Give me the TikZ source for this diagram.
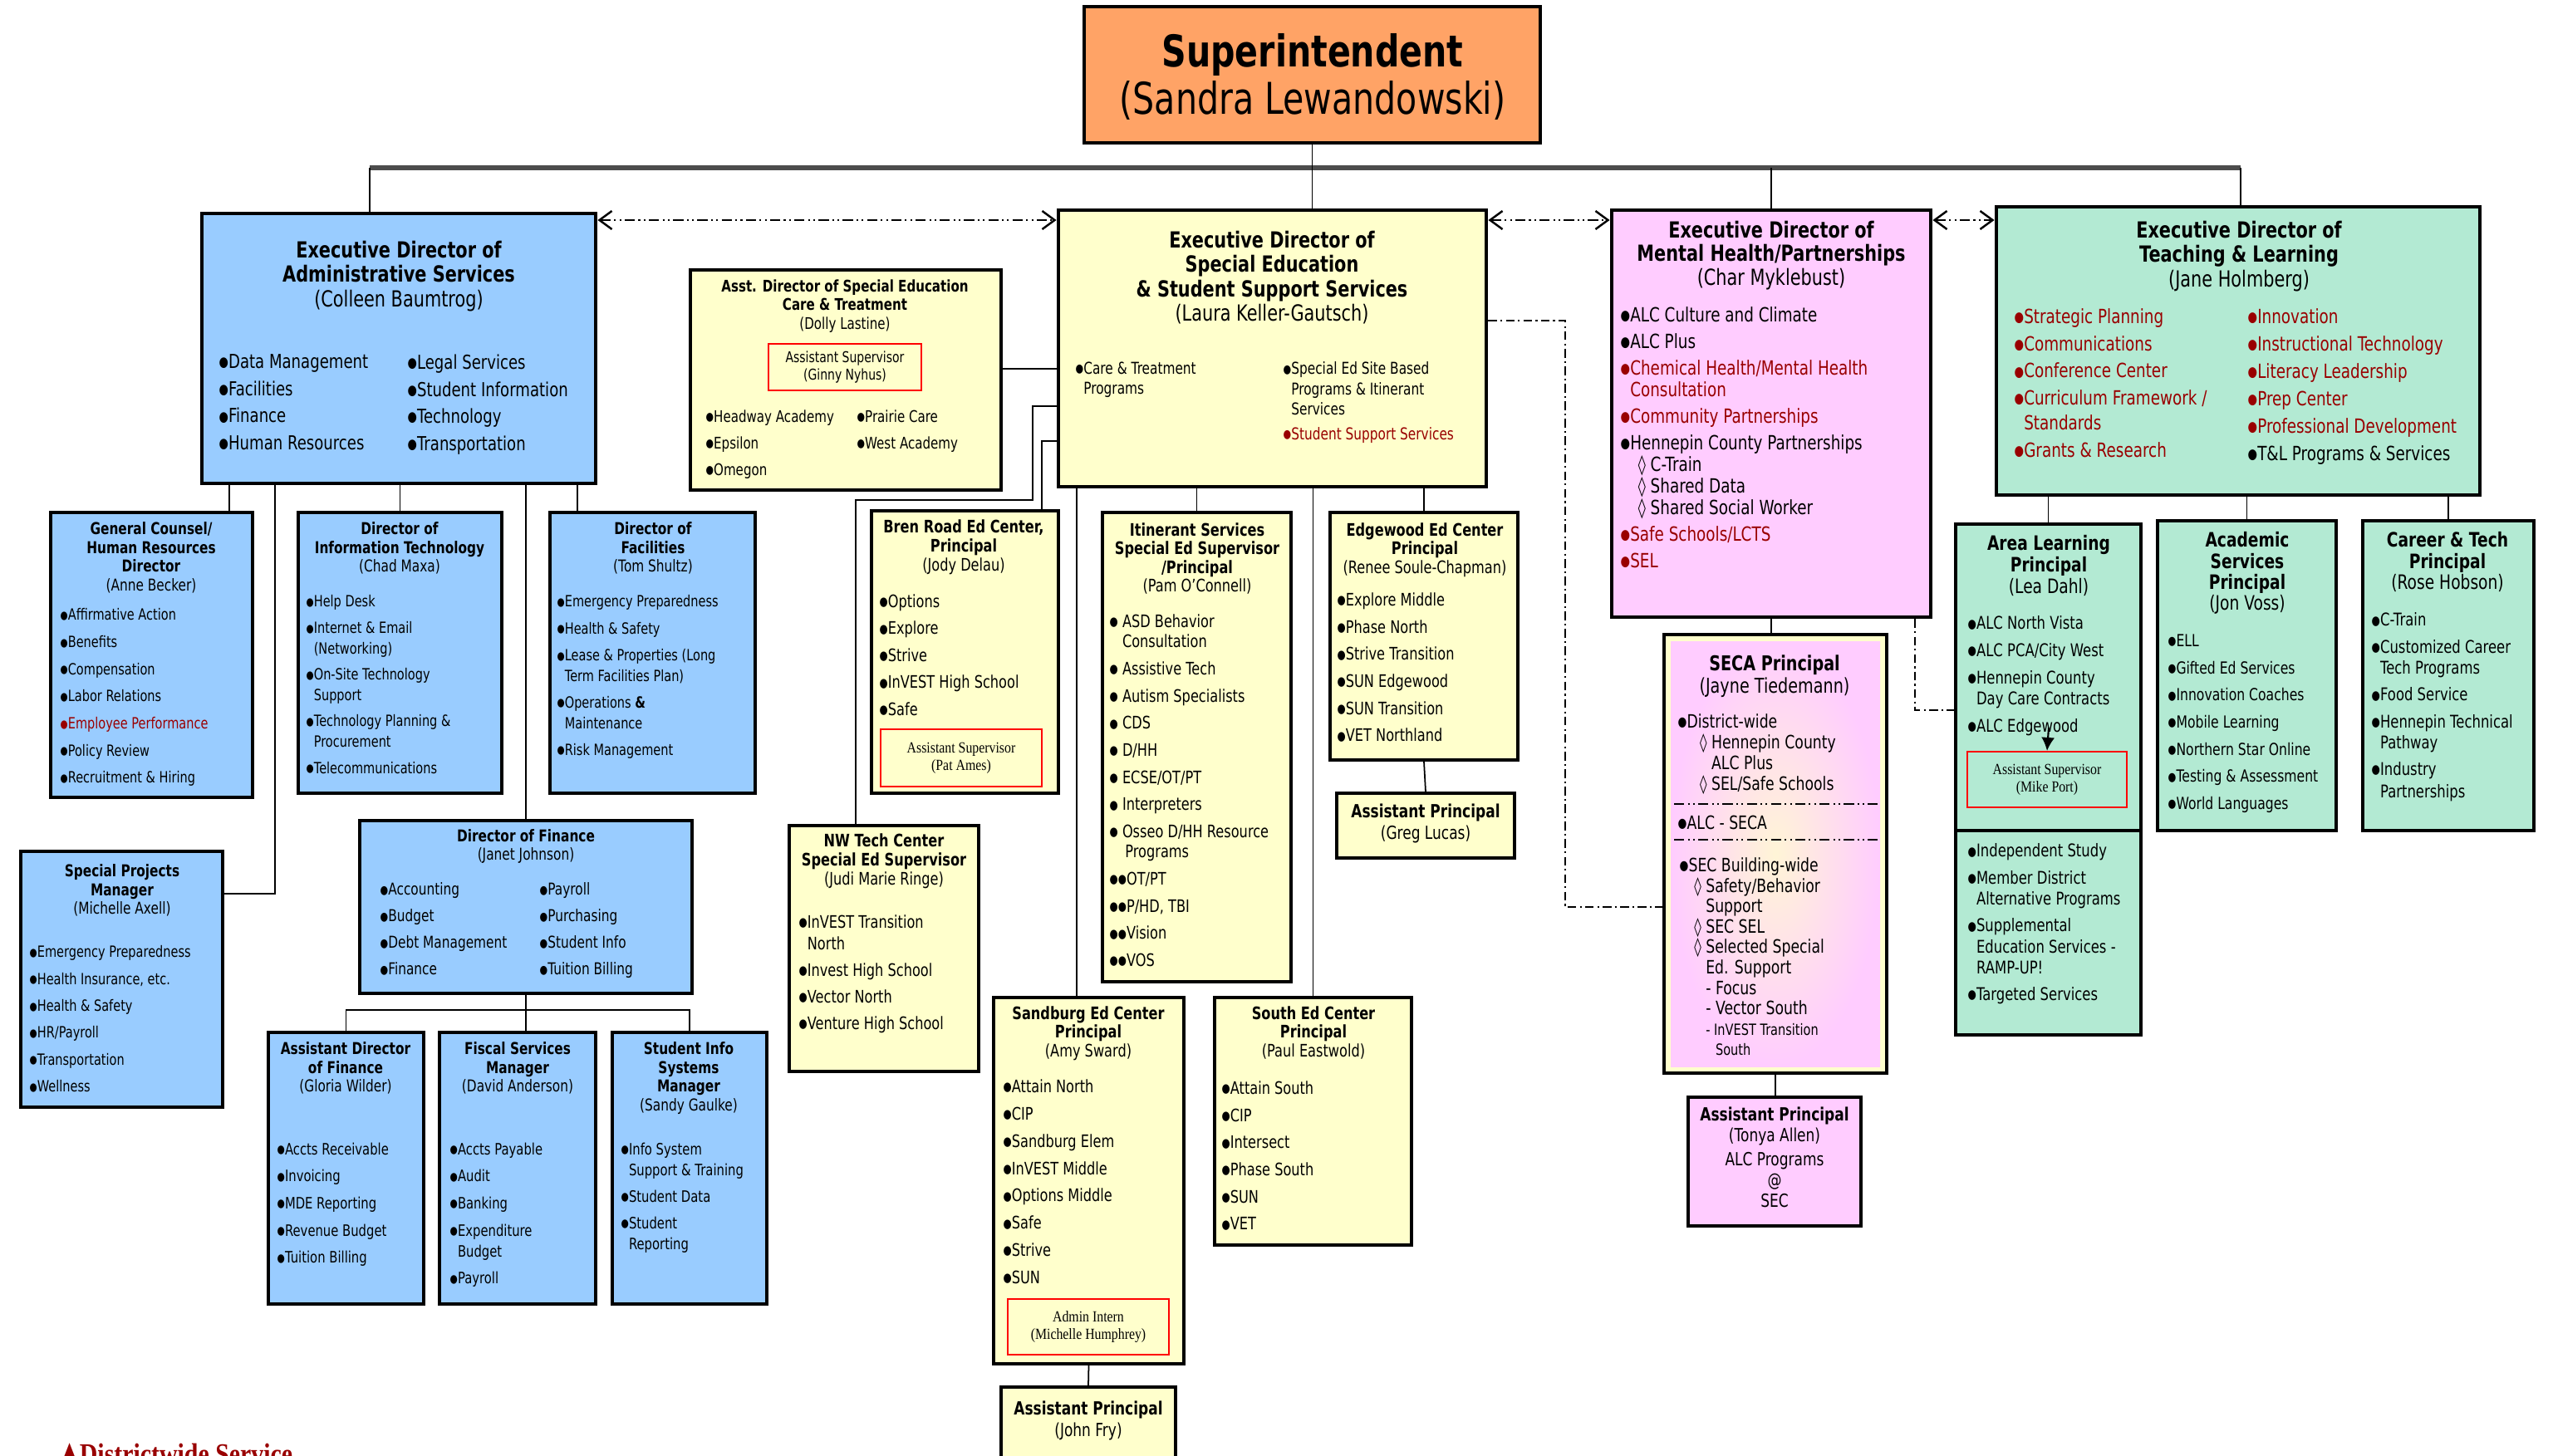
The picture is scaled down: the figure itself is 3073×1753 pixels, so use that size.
\documentclass[tikz,border=0pt]{standalone}
\usepackage{fontspec}
\setmainfont{DejaVu Sans}[FakeStretch=0.78]
\newfontfamily\tnr{Liberation Serif}[FakeStretch=0.85]
\usepackage{tikz}
\usetikzlibrary{positioning,arrows.meta,fit}

\definecolor{supor}{HTML}{FFA366}
\definecolor{admblue}{HTML}{99CCFF}
\definecolor{spyel}{HTML}{FFFFCC}
\definecolor{mhpink}{HTML}{FFCCFF}
\definecolor{tlmint}{HTML}{B3EAD3}
\definecolor{darkred}{HTML}{990000}
\newcommand{\bul}{\raisebox{0.08em}{\scalebox{0.72}{●}}}

\begin{document}
\begin{tikzpicture}[x=0.1mm,y=-0.1mm,
  exec/.style={draw,line width=1.4pt,inner sep=0pt},
  dept/.style={draw,line width=1pt,inner sep=0pt},
  redbox/.style={draw=red,line width=0.6pt,inner sep=0pt},
  ttl/.style 2 args={anchor=north,align=center,inner sep=0pt,font=\fontsize{#1}{#2}\selectfont\bfseries},
  lst/.style 2 args={anchor=north west,align=left,inner sep=0pt,font=\fontsize{#1}{#2}\selectfont},
  note/.style={align=center,inner sep=0pt,font=\tnr\fontsize{5.3}{5.9}\selectfont},
  link/.style={line width=0.5pt},
  dotlink/.style={line width=0.6pt,dash pattern=on 3pt off 1.2pt on 0.6pt off 1.2pt},
  dashdd/.style={line width=0.7pt,dash pattern=on 3.5pt off 1.2pt on 0.6pt off 1.2pt on 0.6pt off 1.2pt},
  dblarr/.style={{Straight Barb[length=1.5mm,width=2.2mm]}-{Straight Barb[length=1.5mm,width=2.2mm]}}]
  \fill[white] (0,0) rectangle (3073,1753);
  \useasboundingbox (0,0) rectangle (3073,1753);

  % superintendent
  \node[exec,fill=supor,fit={(1305,8) (1854,172)}] (sup) {};
  \node[ttl={15}{16.2}] (supt) at (1580,40) {Superintendent\\{\mdseries (Sandra Lewandowski)}};

  % executive directors
  \node[exec,fill=admblue,fit={(243,257) (717,582)}] (adm) {};
  \node[ttl={7.6}{8.4}] (admt) at (480,289) {Executive Director of\\Administrative Services\\{\mdseries (Colleen Baumtrog)}};
  \node[lst={6.6}{9.3}] (adml) at (263,426) {\bul Data Management\\\bul Facilities\\\bul Finance\\\bul Human Resources};
  \node[lst={6.6}{9.3}] (admr) at (490,426) {\bul Legal Services\\\bul Student Information\\\bul Technology\\\bul Transportation};

  \node[exec,fill=spyel,fit={(1274,253) (1789,586)}] (sped) {};
  \node[ttl={7.6}{8.4}] (spedt) at (1531,277) {Executive Director of\\Special Education\\\& Student Support Services\\{\mdseries (Laura Keller-Gautsch)}};
  \node[lst={5.6}{7}] (spedl) at (1294,435) {\bul Care \& Treatment\\\phantom{\bul}Programs};
  \node[lst={5.6}{7}] (spedr) at (1544,435) {\bul Special Ed Site Based\\\phantom{\bul}Programs \& Itinerant\\\phantom{\bul}Services\\[1.3pt]\textcolor{darkred}{\bul Student Support Services}};

  \node[exec,fill=mhpink,fit={(1940,253) (2324,743)}] (mh) {};
  \node[ttl={7.6}{8.2}] (mht) at (2132,265) {Executive Director of\\Mental Health/Partnerships\\{\mdseries (Char Myklebust)}};
  \node[lst={6.7}{9.1}] (mhl) at (1950,369) {\bul ALC Culture and Climate\\\bul ALC Plus\\
    \textcolor{darkred}{\bul Chemical Health/Mental Health}\\[-1.7pt]\textcolor{darkred}{\phantom{\bul}Consultation}\\
    \textcolor{darkred}{\bul Community Partnerships}\\\bul Hennepin County Partnerships\\[-1.7pt]
    \hspace*{6pt}◊ C-Train\\[-1.7pt]\hspace*{6pt}◊ Shared Data\\[-1.7pt]\hspace*{6pt}◊ Shared Social Worker\\
    \textcolor{darkred}{\bul Safe Schools/LCTS}\\\textcolor{darkred}{\bul SEL}};

  \node[exec,fill=tlmint,fit={(2403,249) (2985,596)}] (tl) {};
  \node[ttl={7.6}{8.4}] (tlt) at (2695,265) {Executive Director of\\Teaching \& Learning\\{\mdseries (Jane Holmberg)}};
  \node[lst={6.7}{9.3},text=darkred] (tll) at (2424,371) {\bul Strategic Planning\\\bul Communications\\\bul Conference Center\\
    \bul Curriculum Framework /\\[-0.8pt]\phantom{\bul}Standards\\\bul Grants \& Research};
  \node[lst={6.7}{9.4},text=darkred] (tlr) at (2705,371) {\bul Innovation\\\bul Instructional Technology\\\bul Literacy Leadership\\
    \bul Prep Center\\\bul Professional Development\\\textcolor{black}{\bul T\&L Programs \& Services}};

  % administrative services
  \node[dept,fill=admblue,fit={(61,617) (304,960)}] (gc) {};
  \node[ttl={5.6}{6.4}] (gct) at (182,628) {General Counsel/\\Human Resources\\Director\\{\mdseries (Anne Becker)}};
  \node[lst={5.3}{9.3}] (gcl) at (72,732) {\bul Affirmative Action\\\bul Benefits\\\bul Compensation\\\bul Labor Relations\\
    \textcolor{darkred}{\bul Employee Performance}\\\bul Policy Review\\\bul Recruitment \& Hiring};

  \node[dept,fill=admblue,fit={(359,617) (604,955)}] (it) {};
  \node[ttl={5.6}{6.4}] (itt) at (481,628) {Director of\\Information Technology\\{\mdseries (Chad Maxa)}};
  \node[lst={5.3}{9}] (itl) at (368,716) {\bul Help Desk\\\bul Internet \& Email\\[-2pt]\phantom{\bul}(Networking)\\
    \bul On-Site Technology\\[-2pt]\phantom{\bul}Support\\\bul Technology Planning \&\\[-2pt]\phantom{\bul}Procurement\\\bul Telecommunications};

  \node[dept,fill=admblue,fit={(662,617) (909,955)}] (fac) {};
  \node[ttl={5.6}{6.4}] (fact) at (786,628) {Director of\\Facilities\\{\mdseries (Tom Shultz)}};
  \node[lst={5.3}{9.2}] (facl) at (670,716) {\bul Emergency Preparedness\\\bul Health \& Safety\\
    \bul Lease \& Properties (Long\\[-2.2pt]\phantom{\bul}Term Facilities Plan)\\\bul Operations \textbf{\&}\\[-2.2pt]\phantom{\bul}Maintenance\\\bul Risk Management};

  \node[dept,fill=admblue,fit={(25,1025) (268,1333)}] (spm) {};
  \node[ttl={5.6}{6.4}] (spmt) at (147,1040) {Special Projects\\Manager\\{\mdseries (Michelle Axell)}};
  \node[lst={5.3}{9.2}] (spml) at (35,1138) {\bul Emergency Preparedness\\\bul Health Insurance, etc.\\\bul Health \& Safety\\
    \bul HR/Payroll\\\bul Transportation\\\bul Wellness};

  \node[dept,fill=admblue,fit={(433,988) (833,1196)}] (fin) {};
  \node[ttl={5.6}{6.3}] (fint) at (633,998) {Director of Finance\\{\mdseries (Janet Johnson)}};
  \node[lst={5.6}{9.1}] (finl) at (457,1062) {\bul Accounting\\\bul Budget\\\bul Debt Management\\\bul Finance};
  \node[lst={5.6}{9.1}] (finr) at (649,1062) {\bul Payroll\\\bul Purchasing\\\bul Student Info\\\bul Tuition Billing};

  \node[dept,fill=admblue,fit={(323,1243) (510,1570)}] (adf) {};
  \node[ttl={5.6}{6.4}] (adft) at (416,1254) {Assistant Director\\of Finance\\{\mdseries (Gloria Wilder)}};
  \node[lst={5.4}{9.3}] (adfl) at (333,1375) {\bul Accts Receivable\\\bul Invoicing\\\bul MDE Reporting\\\bul Revenue Budget\\\bul Tuition Billing};

  \node[dept,fill=admblue,fit={(529,1243) (717,1570)}] (fsm) {};
  \node[ttl={5.6}{6.4}] (fsmt) at (623,1254) {Fiscal Services\\Manager\\{\mdseries (David Anderson)}};
  \node[lst={5.4}{9.3}] (fsml) at (541,1375) {\bul Accts Payable\\\bul Audit\\\bul Banking\\\bul Expenditure\\[-2.2pt]\phantom{\bul}Budget\\\bul Payroll};

  \node[dept,fill=admblue,fit={(737,1243) (923,1570)}] (sis) {};
  \node[ttl={5.6}{6.4}] (sist) at (829,1254) {Student Info\\Systems\\Manager\\{\mdseries (Sandy Gaulke)}};
  \node[lst={5.4}{9.1}] (sisl) at (747,1375) {\bul Info System\\[-2pt]\phantom{\bul}Support \& Training\\\bul Student Data\\\bul Student\\[-2pt]\phantom{\bul}Reporting};

  % special education
  \node[dept,fill=spyel,fit={(831,325) (1205,590)}] (acd) {};
  \node[ttl={5.5}{6.4}] (acdt) at (1017,336) {Asst. Director of Special Education\\Care \& Treatment\\{\mdseries (Dolly Lastine)}};
  \node[redbox,fit={(925,414) (1109,470)}] (gny) {};
  \node[align=center,inner sep=0pt,font=\fontsize{5.1}{5.9}\selectfont] (gnyt) at (gny.center) {Assistant Supervisor\\(Ginny Nyhus)};
  \node[lst={5.5}{9.1}] (acdl) at (849,493) {\bul Headway Academy\\\bul Epsilon\\\bul Omegon};
  \node[lst={5.5}{9.1}] (acdr) at (1031,493) {\bul Prairie Care\\\bul West Academy};

  \node[dept,fill=spyel,fit={(1049,615) (1274,955)}] (bren) {};
  \node[ttl={5.9}{6.5}] (brent) at (1160,625) {Bren Road Ed Center,\\Principal\\{\mdseries (Jody Delau)}};
  \node[lst={5.9}{9.25}] (brenl) at (1058,715) {\bul Options\\\bul Explore\\\bul Strive\\\bul InVEST High School\\\bul Safe};
  \node[redbox,fit={(1060,878) (1254,947)}] (pam) {};
  \node[note] (pamt) at (pam.center) {Assistant Supervisor\\(Pat Ames)};

  \node[dept,fill=spyel,fit={(950,994) (1178,1290)}] (nwt) {};
  \node[ttl={5.9}{6.5}] (nwtt) at (1064,1003) {NW Tech Center\\Special Ed Supervisor\\{\mdseries (Judi Marie Ringe)}};
  \node[lst={5.9}{9.1}] (nwtl) at (961,1101) {\bul InVEST Transition\\[-1.8pt]\phantom{\bul}North\\\bul Invest High School\\\bul Vector North\\\bul Venture High School};

  \node[dept,fill=spyel,fit={(1327,617) (1554,1182)}] (itin) {};
  \node[ttl={5.9}{6.4}] (itint) at (1441,629) {Itinerant Services\\Special Ed Supervisor\\/Principal\\{\mdseries (Pam O’Connell)}};
  \node[lst={5.9}{9.3}] (itinl) at (1335,739) {\bul\ ASD Behavior\\[-2.4pt]\phantom{\bul\ }Consultation\\\bul\ Assistive Tech\\
    \bul\ Autism Specialists\\\bul\ CDS\\\bul\ D/HH\\\bul\ ECSE/OT/PT\\\bul\ Interpreters\\
    \bul\ Osseo D/HH Resource\\[-2.4pt]\phantom{\bul\ }\,Programs\\\bul\bul OT/PT\\\bul\bul P/HD, TBI\\\bul\bul Vision\\\bul\bul VOS};

  \node[dept,fill=spyel,fit={(1601,617) (1827,915)}] (edg) {};
  \node[ttl={5.9}{6.4}] (edgt) at (1715,629) {Edgewood Ed Center\\Principal\\{\mdseries (Renee Soule-Chapman)}};
  \node[lst={5.9}{9.3}] (edgl) at (1609,713) {\bul Explore Middle\\\bul Phase North\\\bul Strive Transition\\\bul SUN Edgewood\\\bul SUN Transition\\\bul VET Northland};

  \node[dept,fill=spyel,fit={(1609,955) (1823,1033)}] (ap1) {};
  \node[ttl={6.2}{7.4}] (ap1t) at (1716,967) {Assistant Principal\\{\mdseries (Greg Lucas)}};

  \node[dept,fill=spyel,fit={(1196,1201) (1425,1642)}] (sbg) {};
  \node[ttl={5.9}{6.4}] (sbgt) at (1310,1211) {Sandburg Ed Center\\Principal\\{\mdseries (Amy Sward)}};
  \node[lst={5.9}{9.35}] (sbgl) at (1207,1299) {\bul Attain North\\\bul CIP\\\bul Sandburg Elem\\\bul InVEST Middle\\
    \bul Options Middle\\\bul Safe\\\bul Strive\\\bul SUN};
  \node[redbox,fit={(1213,1564) (1407,1631)}] (mhu) {};
  \node[note] (mhut) at (mhu.center) {Admin Intern\\(Michelle Humphrey)};

  \node[dept,fill=spyel,fit={(1462,1201) (1699,1499)}] (sth) {};
  \node[ttl={5.9}{6.4}] (stht) at (1581,1211) {South Ed Center\\Principal\\{\mdseries (Paul Eastwold)}};
  \node[lst={5.9}{9.3}] (sthl) at (1470,1301) {\bul Attain South\\\bul CIP\\\bul Intersect\\\bul Phase South\\\bul SUN\\\bul VET};

  \node[dept,fill=spyel,fit={(1205,1670) (1415,1800)}] (ap2) {};
  \node[ttl={6.2}{7.4}] (ap2t) at (1310,1686) {Assistant Principal\\{\mdseries (John Fry)}};

  % mental health
  \node[dept,fill=spyel,fit={(2003,764) (2271,1292)}] (seca) {};
  \shade[inner color=spyel!80!mhpink,outer color=mhpink] (2011,772) rectangle (2263,1284);
  \node[ttl={7}{7.7}] (secat) at (2136,788) {SECA Principal\\{\mdseries (Jayne Tiedemann)}};
  \node[lst={6.3}{7.1}] (secal) at (2019,859) {\bul District-wide\\\hspace*{7.5pt}◊ Hennepin County\\
    \hspace*{7.5pt}\phantom{◊ }ALC Plus\\\hspace*{7.5pt}◊ SEL/Safe Schools};
  \draw[dashdd] (2015,968) -- (2260,968);
  \node[lst={6.3}{7.1}] (secam) at (2019,981) {\bul ALC - SECA};
  \draw[dashdd] (2015,1011) -- (2260,1011);
  \node[lst={6.3}{7}] (secab) at (2021,1032) {\bul SEC Building-wide\\\hspace*{5pt}◊ Safety/Behavior\\
    \hspace*{5pt}\phantom{◊ }Support\\\hspace*{5pt}◊ SEC SEL\\\hspace*{5pt}◊ Selected Special\\
    \hspace*{5pt}\phantom{◊ }Ed. Support\\\hspace*{5pt}\phantom{◊ }- Focus\\\hspace*{5pt}\phantom{◊ }- Vector South\\
    \hspace*{5pt}\phantom{◊ }{\fontsize{5.3}{7}\selectfont - InVEST Transition}\\
    \hspace*{5pt}\phantom{◊ - }{\fontsize{5.3}{7}\selectfont South}};

  \node[dept,fill=mhpink,fit={(2032,1321) (2240,1476)}] (ap3) {};
  \node[ttl={6.2}{7.1}] (ap3t) at (2136,1332) {Assistant Principal\\{\mdseries (Tonya Allen)}\\[1.2pt]
    {\mdseries ALC Programs}\\{\mdseries @}\\{\mdseries SEC}};

  % teaching and learning
  \node[dept,fill=tlmint,fit={(2354,631) (2577,1246)}] (alp) {};
  \node[ttl={6.8}{7.3}] (alpt) at (2466,644) {Area Learning\\Principal\\{\mdseries (Lea Dahl)}};
  \node[lst={6}{9.3}] (alpl) at (2368,741) {\bul ALC North Vista\\\bul ALC PCA/City West\\
    \bul Hennepin County\\[-2pt]\phantom{\bul}Day Care Contracts\\\bul ALC Edgewood};
  \node[redbox,fit={(2368,905) (2560,972)}] (mpt) {};
  \node[note] (mptt) at (mpt.center) {Assistant Supervisor\\(Mike Port)};
  \coordinate (mparr) at (2466,876);
  \draw[line width=0.6pt,-{Latex[length=1.6mm,width=1.6mm]}] (mparr) -- (mpt.north);
  \draw[line width=1pt] (alp.west |- 0,1000) -- (alp.east |- 0,1000);
  \node[lst={6}{9.2}] (alpb) at (2368,1015) {\bul Independent Study\\\bul Member District\\[-2pt]\phantom{\bul}Alternative Programs\\
    \bul Supplemental\\[-2pt]\phantom{\bul}Education Services -\\[-2pt]\phantom{\bul}RAMP-UP!\\\bul Targeted Services};

  \node[dept,fill=tlmint,fit={(2597,627) (2812,1000)}] (asp) {};
  \node[ttl={6.8}{7.2}] (aspt) at (2705,640) {Academic\\Services\\Principal\\{\mdseries (Jon Voss)}};
  \node[lst={5.7}{9.3}] (aspl) at (2609,763) {\bul ELL\\\bul Gifted Ed Services\\\bul Innovation Coaches\\\bul Mobile Learning\\
    \bul Northern Star Online\\\bul Testing \& Assessment\\\bul World Languages};

  \node[dept,fill=tlmint,fit={(2844,627) (3050,1000)}] (ctp) {};
  \node[ttl={6.8}{7.2}] (ctpt) at (2946,640) {Career \& Tech\\Principal\\{\mdseries (Rose Hobson)}};
  \node[lst={6}{9.2}] (ctpl) at (2854,737) {\bul C-Train\\\bul Customized Career\\[-2pt]\phantom{\bul}Tech Programs\\\bul Food Service\\
    \bul Hennepin Technical\\[-2pt]\phantom{\bul}Pathway\\\bul Industry\\[-1.5pt]\phantom{\bul}Partnerships};

  % legend
  \node[anchor=base west,inner sep=0pt,text=darkred] (dws) at (72,1762)
    {{\fontsize{11}{12}\selectfont ▲}{\tnr\fontsize{10}{11}\selectfont\bfseries Districtwide Service}};

  % connectors
  \coordinate (busL) at (445,202);
  \coordinate (busR) at (2697,202);
  \draw[line width=1.6pt,black!70] (busL) -- (busR);
  \draw[link] (sup.south) -- (sup.south |- sped.north);
  \draw[link] (busL) -- (busL |- adm.north);
  \draw[link] (mh.north |- busL) -- (mh.north);
  \draw[link] (busR) -- (busR |- tl.north);
  \draw[dashdd,dblarr] (adm.east |- 0,265) -- (sped.west |- 0,265);
  \draw[dashdd,dblarr] (sped.east |- 0,265) -- (mh.west |- 0,265);
  \draw[dashdd,dblarr] (mh.east |- 0,265) -- (tl.west |- 0,265);

  \draw[link] (276,0 |- adm.south) -- (276,0 |- gc.north);
  \draw[link] (it.north |- adm.south) -- (it.north);
  \draw[link] (695,0 |- adm.south) -- (695,0 |- fac.north);
  \draw[link] (fin.north |- adm.south) -- (fin.north);
  \draw[link] (331,0 |- adm.south) -- (331,1076) -- (331,1076 -| spm.east);
  \draw[link] (fin.south) -- (fin.south |- fsm.north);
  \draw[link] (adf.north) -- (adf.north |- 0,1216) -- (sis.north |- 0,1216) -- (sis.north);

  \draw[link] (acd.east |- 0,444) -- (sped.west |- 0,444);
  \draw[link] (sped.west |- 0,489) -| (1243,602) -| (1030,0 |- nwt.north);
  \draw[link] (sped.west |- 0,531) -| (1254,0 |- bren.north);
  \draw[link] (1296,0 |- sped.south) -- (1296,0 |- sbg.north);
  \draw[link] (itin.north |- sped.south) -- (itin.north);
  \draw[link] (sth.north |- sped.south) -- (sth.north);
  \draw[link] (edg.north |- sped.south) -- (edg.north);
  \draw[link] (edg.south) -- (ap1.north);
  \draw[link] (sbg.south) -- (ap2.north);
  \draw[dotlink] (sped.east |- 0,386) -| (1884,1092) -- (1884,1092 -| seca.west);

  \draw[link] (mh.south) -- (mh.south |- seca.north);
  \draw[link] (seca.south) -- (seca.south |- ap3.north);
  \draw[dotlink] (2305,0 |- mh.south) |- (alp.west |- 0,855);

  \draw[link] (alp.north |- tl.south) -- (alp.north);
  \draw[link] (asp.north |- tl.south) -- (asp.north);
  \draw[link] (ctp.north |- tl.south) -- (ctp.north);
\end{tikzpicture}
\end{document}
